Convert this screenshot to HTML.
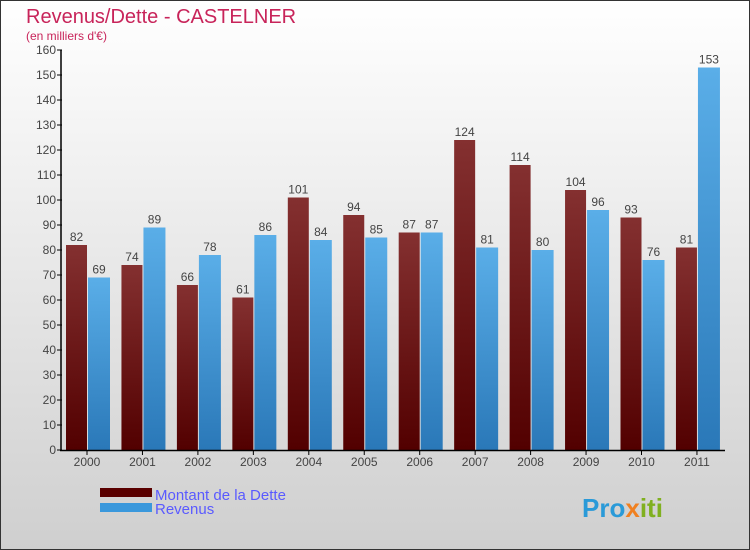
<!DOCTYPE html>
<html><head><meta charset="utf-8"><style>
body{margin:0}
#c{width:750px;height:550px;position:relative;overflow:hidden}
svg text{font-family:"Liberation Sans",sans-serif}
</style></head><body>
<div id="c">
<svg id="s" width="750" height="550" xmlns="http://www.w3.org/2000/svg">
<defs>
<linearGradient id="bg" x1="0" y1="0" x2="0" y2="1"><stop offset="0" stop-color="#ffffff"/><stop offset="1" stop-color="#cfcfcf"/></linearGradient>
<linearGradient id="gd" x1="0" y1="0" x2="0" y2="1"><stop offset="0" stop-color="#843030"/><stop offset="1" stop-color="#520000"/></linearGradient>
<linearGradient id="gr" x1="0" y1="0" x2="0" y2="1"><stop offset="0" stop-color="#5aaee8"/><stop offset="1" stop-color="#2a78b8"/></linearGradient>
</defs>
<rect x="0.5" y="0.5" width="749" height="549" fill="url(#bg)" stroke="#333"/>
<text x="26" y="23" font-size="20" fill="#c8245a">Revenus/Dette - CASTELNER</text>
<text x="26" y="40" font-size="12" fill="#c8245a">(en milliers d'€)</text>
<g id="plot"></g>
<rect x="100" y="488" width="52" height="9" fill="#5a0000"/>
<rect x="100" y="503" width="52" height="9" fill="#3a98dc"/>
<text x="155" y="500" font-size="15" fill="#5a5aff">Montant de la Dette</text>
<text x="155" y="514" font-size="15" fill="#5a5aff">Revenus</text>
<text x="582" y="517" font-size="26" font-weight="bold" fill="#2a9ad8">Pro<tspan fill="#f08020">x</tspan><tspan fill="#80b020">iti</tspan></text>
</svg></div>
<script>
const years=["2000","2001","2002","2003","2004","2005","2006","2007","2008","2009","2010","2011"];
const dette=[82,74,66,61,101,94,87,124,114,104,93,81];
const revenus=[69,89,78,86,84,85,87,81,80,96,76,153];
const yTicks=[0,10,20,30,40,50,60,70,80,90,100,110,120,130,140,150,160];
const NS="http://www.w3.org/2000/svg";
const g=document.getElementById('plot');
const y0=450,yTop=50,yMax=160;
function y(v){return y0-(v/yMax)*(y0-yTop);}
function xc(i){return 87+i*55.45;}
function mk(t,a,txt){const e=document.createElementNS(NS,t);for(const k in a)e.setAttribute(k,a[k]);if(txt!==undefined)e.textContent=txt;g.appendChild(e);return e;}
yTicks.forEach(v=>{
  const l=mk('line',{x1:57,x2:62,y1:y(v),y2:y(v),stroke:'#000'});
  
  
  const t=mk('text',{x:56,y:y(v)+4,'font-size':12,'text-anchor':'end',fill:'#444'},v);
  
  
});
years.forEach((yr,i)=>{
  const c=xc(i);
  const b1=mk('rect',{x:c-21,y:y(dette[i]),width:21,height:y0-y(dette[i]),fill:'url(#gd)'});
  
  
  const b2=mk('rect',{x:c+1,y:y(revenus[i]),width:22,height:y0-y(revenus[i]),fill:'url(#gr)'});
  
  
  const t1=mk('text',{x:c-10.5,y:y(dette[i])-4,'font-size':12,'text-anchor':'middle',fill:'#444'},dette[i]);
  
  
  const t2=mk('text',{x:c+12,y:y(revenus[i])-4,'font-size':12,'text-anchor':'middle',fill:'#444'},revenus[i]);
  
  
  const tk=mk('line',{x1:c,x2:c,y1:450,y2:455,stroke:'#000'});
  
  
  const xl=mk('text',{x:c,y:466,'font-size':12,'text-anchor':'middle',fill:'#444'},yr);
  
  
});
const ya=mk('line',{x1:61,x2:61,y1:50,y2:451,stroke:'#000','stroke-width':1.5});


const xa=mk('line',{x1:60,x2:725,y1:450.5,y2:450.5,stroke:'#000','stroke-width':1.5});


</script>
</body></html>
